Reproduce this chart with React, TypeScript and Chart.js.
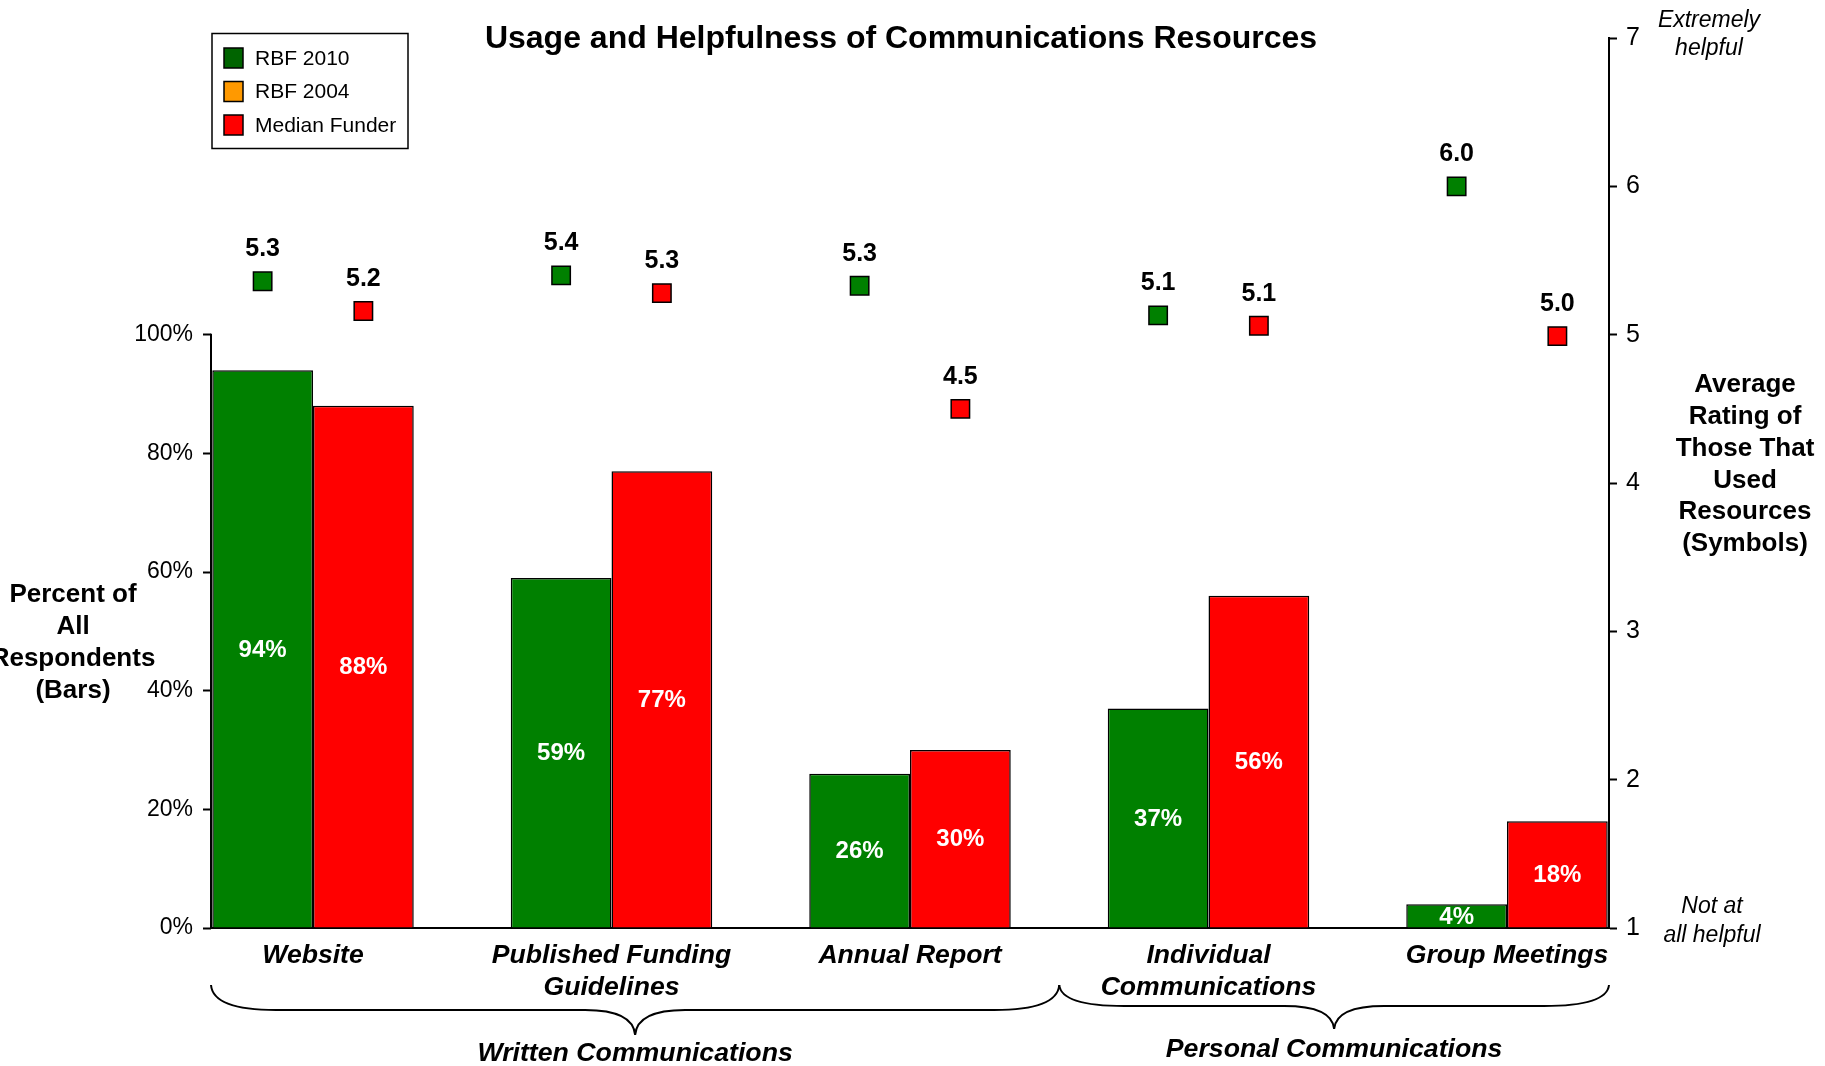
import React, { useEffect, useRef } from 'react';
import { Chart, registerables } from 'chart.js';

Chart.register(...registerables);

// ---------- data ----------
const categories: string[][] = [
  ['Website'],
  ['Published Funding', 'Guidelines'],
  ['Annual Report'],
  ['Individual', 'Communications'],
  ['Group Meetings'],
];
const usageRBF2010 = [94, 59, 26, 37, 4];
const usageMedian = [88, 77, 30, 56, 18];
const ratingRBF2010 = [5.36, 5.4, 5.33, 5.13, 6.0];
const ratingMedian = [5.16, 5.28, 4.5, 5.06, 4.99];
const ratingRBF2010Labels = ['5.3', '5.4', '5.3', '5.1', '6.0'];
const ratingMedianLabels = ['5.2', '5.3', '4.5', '5.1', '5.0'];
const leftTicks = [0, 20, 40, 60, 80, 100];
const rightTicks = [1, 2, 3, 4, 5, 6, 7];
const groupNames = ['Written Communications', 'Personal Communications'];
const groupFrom = [0, 3];
const groupTo = [2, 4];
const legendLabels = ['RBF 2010', 'RBF 2004', 'Median Funder'];
const titleText = 'Usage and Helpfulness of Communications Resources';
const leftTitle = ['Percent of', 'All', 'Respondents', '(Bars)'];
const rightTitle = ['Average', 'Rating of', 'Those That', 'Used', 'Resources', '(Symbols)'];
const topNote = ['Extremely', 'helpful'];
const bottomNote = ['Not at', 'all helpful'];

// ---------- styles ----------
const FONT = "'Liberation Sans', Arial, Helvetica, sans-serif";
const GREEN = '#008000';
const RED = '#FF0000';
const legendColors = ['#006400', '#FF9900', '#FF0000'];
const CAT_PCT = 0.675;
const X_PAD = 0.3417;

export default function App() {
  const ref = useRef<HTMLCanvasElement>(null);

  useEffect(() => {
    const canvas = ref.current!;
    const markerOffset = CAT_PCT / 4;

    const overlay = {
      id: 'overlay',
      afterDatasetsDraw(chart: any) {
        const ctx = chart.ctx;
        ctx.save();
        // bar value labels
        ctx.fillStyle = '#fff';
        ctx.font = `bold 24px ${FONT}`;
        ctx.textAlign = 'center';
        ctx.textBaseline = 'middle';
        [0, 1].forEach((di) => {
          const meta = chart.getDatasetMeta(di);
          const vals = di === 0 ? usageRBF2010 : usageMedian;
          meta.data.forEach((el: any, i: number) => {
            ctx.fillText(`${vals[i]}%`, el.x, (el.y + el.base) / 2 + 1);
          });
        });
        // marker labels
        ctx.fillStyle = '#000';
        ctx.font = `bold 25px ${FONT}`;
        [2, 3].forEach((di) => {
          const meta = chart.getDatasetMeta(di);
          const labs = di === 2 ? ratingRBF2010Labels : ratingMedianLabels;
          meta.data.forEach((el: any, i: number) => {
            ctx.fillText(labs[i], el.x, el.y - 32);
          });
        });
        ctx.restore();
      },
      afterDraw(chart: any) {
        const ctx = chart.ctx;
        const area = chart.chartArea;
        const y = chart.scales.y;
        const x = chart.scales.x;
        ctx.save();
        // left axis line (0% to 100%)
        ctx.strokeStyle = '#000';
        ctx.lineWidth = 2;
        ctx.beginPath();
        ctx.moveTo(area.left, y.getPixelForValue(0) + 1);
        ctx.lineTo(area.left, y.getPixelForValue(100) - 1);
        ctx.stroke();

        // title
        ctx.fillStyle = '#000';
        ctx.textAlign = 'center';
        ctx.textBaseline = 'alphabetic';
        ctx.font = `bold 32px ${FONT}`;
        ctx.fillText(titleText, 901, 48);

        // legend
        ctx.lineWidth = 1.5;
        ctx.strokeRect(212, 33.5, 196, 115);
        ctx.font = `21px ${FONT}`;
        ctx.textAlign = 'left';
        ctx.textBaseline = 'middle';
        legendLabels.forEach((lab, i) => {
          const cy = 58 + i * 33.5;
          ctx.fillStyle = legendColors[i];
          ctx.fillRect(224, cy - 10, 19, 20);
          ctx.strokeStyle = '#000';
          ctx.lineWidth = 1.5;
          ctx.strokeRect(224, cy - 10, 19, 20);
          ctx.fillStyle = '#000';
          ctx.fillText(lab, 255, cy + 1);
        });

        // axis titles
        ctx.textAlign = 'center';
        ctx.font = `bold 26px ${FONT}`;
        leftTitle.forEach((l, i) => ctx.fillText(l, 73, 595 + i * 32));
        rightTitle.forEach((l, i) => ctx.fillText(l, 1745, 385 + i * 31.8));

        // notes
        ctx.font = `italic 23px ${FONT}`;
        topNote.forEach((l, i) => ctx.fillText(l, 1709, 21 + i * 28));
        bottomNote.forEach((l, i) => ctx.fillText(l, 1712, 907 + i * 29));

        // braces and group labels
        const last = categories.length - 1;
        groupNames.forEach((name, gi) => {
          const left = groupFrom[gi] === 0 ? area.left : x.getPixelForValue(groupFrom[gi] - 0.5);
          const right = groupTo[gi] === last ? area.right : x.getPixelForValue(groupTo[gi] + 0.5);
          const cx = (left + right) / 2;
          const yT = 985;
          const yM = gi === 0 ? 1010 : 1006;
          const yP = gi === 0 ? 1035 : 1029;
          const r1 = 65;
          const r2 = 50;
          ctx.strokeStyle = '#000';
          ctx.lineWidth = 2;
          ctx.beginPath();
          ctx.moveTo(left, yT);
          ctx.quadraticCurveTo(left + 2, yM, left + r1, yM);
          ctx.lineTo(cx - r2, yM);
          ctx.quadraticCurveTo(cx - 2, yM, cx, yP);
          ctx.quadraticCurveTo(cx + 2, yM, cx + r2, yM);
          ctx.lineTo(right - r1, yM);
          ctx.quadraticCurveTo(right - 2, yM, right, yT);
          ctx.stroke();

          ctx.fillStyle = '#000';
          ctx.font = `bold italic 26.7px ${FONT}`;
          ctx.textAlign = 'center';
          ctx.textBaseline = 'middle';
          ctx.fillText(name, cx, gi === 0 ? 1054 : 1050);
        });
        ctx.restore();
      },
    };

    const chart = new Chart(canvas, {
      type: 'bar',
      data: {
        datasets: [
          {
            type: 'bar',
            label: legendLabels[0],
            data: usageRBF2010.map((v, i) => ({ x: i, y: v })),
            backgroundColor: GREEN,
            borderColor: '#000',
            borderWidth: 1.5,
            categoryPercentage: CAT_PCT,
            barPercentage: 1,
            yAxisID: 'y',
            order: 2,
          },
          {
            type: 'bar',
            label: legendLabels[2],
            data: usageMedian.map((v, i) => ({ x: i, y: v })),
            backgroundColor: RED,
            borderColor: '#000',
            borderWidth: 1.5,
            categoryPercentage: CAT_PCT,
            barPercentage: 1,
            yAxisID: 'y',
            order: 2,
          },
          {
            type: 'line',
            label: legendLabels[0] + ' rating',
            data: ratingRBF2010.map((v, i) => ({ x: i - markerOffset, y: v })),
            showLine: false,
            pointStyle: 'rect',
            pointRadius: 13,
            pointBackgroundColor: GREEN,
            pointBorderColor: '#000',
            pointBorderWidth: 1.5,
            yAxisID: 'y2',
            order: 1,
          },
          {
            type: 'line',
            label: legendLabels[2] + ' rating',
            data: ratingMedian.map((v, i) => ({ x: i + markerOffset, y: v })),
            showLine: false,
            pointStyle: 'rect',
            pointRadius: 13,
            pointBackgroundColor: RED,
            pointBorderColor: '#000',
            pointBorderWidth: 1.5,
            yAxisID: 'y2',
            order: 1,
          },
        ] as any,
      },
      options: {
        responsive: false,
        animation: false,
        events: [],
        layout: { padding: { top: 38, left: 0, right: 0, bottom: 0 } },
        plugins: {
          legend: { display: false },
          title: { display: false },
          tooltip: { enabled: false },
        },
        scales: {
          x: {
            type: 'linear',
            min: -X_PAD,
            max: categories.length - 1 + X_PAD,
            offset: false,
            afterBuildTicks: (s: any) => {
              s.ticks = categories.map((_, i) => ({ value: i }));
            },
            afterFit: (s: any) => {
              s.height = 138;
            },
            ticks: {
              autoSkip: false,
              maxRotation: 0,
              minRotation: 0,
              padding: 12,
              color: '#000',
              font: { family: FONT, size: 26.6, weight: 'bold', style: 'italic', lineHeight: 1.2 },
              callback: (v: any) => categories[Math.round(Number(v))],
            },
            grid: { drawOnChartArea: false, drawTicks: false, offset: false },
            border: { display: true, color: '#000', width: 2 },
          },
          y: {
            type: 'linear',
            position: 'left',
            min: 0,
            max: 150,
            afterBuildTicks: (s: any) => {
              s.ticks = leftTicks.map((v) => ({ value: v }));
            },
            afterFit: (s: any) => {
              s.width = 211;
            },
            ticks: {
              padding: 10,
              color: '#000',
              font: { family: FONT, size: 23 },
              callback: (v: any) => `${v}%`,
            },
            grid: { drawOnChartArea: false, drawTicks: true, tickLength: 8, tickWidth: 2, tickColor: '#000' },
            border: { display: false },
          },
          y2: {
            type: 'linear',
            position: 'right',
            min: 1,
            max: 7,
            afterBuildTicks: (s: any) => {
              s.ticks = rightTicks.map((v) => ({ value: v }));
            },
            afterFit: (s: any) => {
              s.width = 216;
            },
            ticks: {
              padding: 9,
              color: '#000',
              font: { family: FONT, size: 25 },
              callback: (v: any) => `${v}`,
            },
            grid: { drawOnChartArea: false, drawTicks: true, tickLength: 8, tickWidth: 2, tickColor: '#000' },
            border: { display: true, color: '#000', width: 2 },
          },
        },
      } as any,
      plugins: [overlay],
    });

    return () => chart.destroy();
  }, []);

  return (
    <div style={{ position: 'absolute', left: 0, top: 0, width: 1825, height: 1066, background: '#fff' }}>
      <canvas ref={ref} width={1825} height={1066} style={{ display: 'block' }} />
    </div>
  );
}
